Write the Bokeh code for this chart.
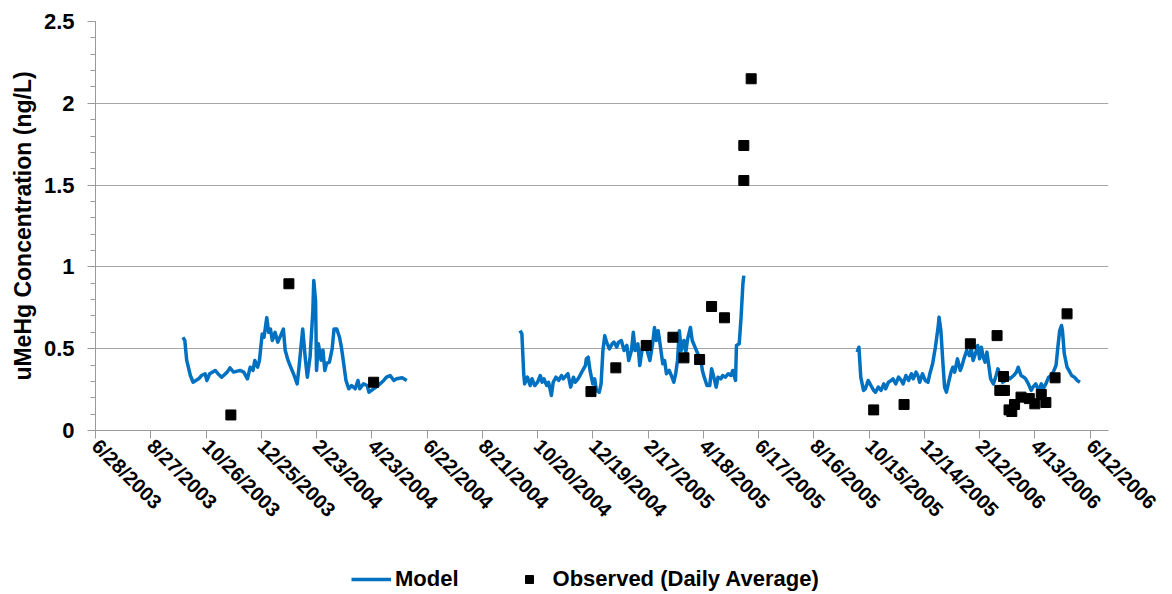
import math
from datetime import datetime
from bokeh.plotting import figure
from bokeh.layouts import column
from bokeh.models import Range1d, FixedTicker, Legend, LegendItem, ColumnDataSource, Title
from bokeh.embed import file_html
from bokeh.resources import INLINE

# ---------------- data ----------------
x_tick_labels = ["6/28/2003", "8/27/2003", "10/26/2003", "12/25/2003", "2/23/2004",
                 "4/23/2004", "6/22/2004", "8/21/2004", "10/20/2004", "12/19/2004",
                 "2/17/2005", "4/18/2005", "6/17/2005", "8/16/2005", "10/15/2005",
                 "12/14/2005", "2/12/2006", "4/13/2006", "6/12/2006"]
x_axis_start = "2003-06-28"
x_axis_end = "2006-07-02"
y_ticks = [0, 0.5, 1, 1.5, 2, 2.5]
y_tick_labels = ["0", "0.5", "1", "1.5", "2", "2.5"]
y_title = "uMeHg Concentration (ng/L)"

model_dates_1 = ["2003-10-01", "2003-10-03", "2003-10-05", "2003-10-09", "2003-10-12", "2003-10-18",
                 "2003-10-21", "2003-10-25", "2003-10-27", "2003-10-30", "2003-11-05", "2003-11-08",
                 "2003-11-12", "2003-11-18", "2003-11-21", "2003-11-25", "2003-11-29", "2003-12-02",
                 "2003-12-06", "2003-12-10", "2003-12-13", "2003-12-16", "2003-12-18", "2003-12-21",
                 "2003-12-23", "2003-12-26", "2003-12-28", "2003-12-31", "2004-01-02", "2004-01-04",
                 "2004-01-06", "2004-01-09", "2004-01-12", "2004-01-15", "2004-01-18", "2004-01-20",
                 "2004-01-23", "2004-01-26", "2004-01-29", "2004-02-02", "2004-02-04", "2004-02-08",
                 "2004-02-11", "2004-02-13", "2004-02-16", "2004-02-19", "2004-02-20", "2004-02-22",
                 "2004-02-23", "2004-02-25", "2004-02-28", "2004-03-01", "2004-03-03", "2004-03-05",
                 "2004-03-08", "2004-03-11", "2004-03-13", "2004-03-16", "2004-03-19", "2004-03-21",
                 "2004-03-23", "2004-03-26", "2004-03-29", "2004-04-01", "2004-04-05", "2004-04-08",
                 "2004-04-10", "2004-04-14", "2004-04-18", "2004-04-20", "2004-04-25", "2004-04-30",
                 "2004-05-06", "2004-05-09", "2004-05-13", "2004-05-17", "2004-05-20", "2004-05-26",
                 "2004-05-31"]
model_vals_1 = [0.57, 0.55, 0.43, 0.336, 0.295, 0.316, 0.336, 0.347, 0.306, 0.347, 0.367, 0.347,
                0.326, 0.357, 0.383, 0.357, 0.363, 0.367, 0.357, 0.316, 0.387, 0.367, 0.428, 0.387,
                0.428, 0.59, 0.57, 0.69, 0.60, 0.62, 0.55, 0.60, 0.54, 0.58, 0.62, 0.49,
                0.43, 0.387, 0.347, 0.285, 0.387, 0.62, 0.43, 0.326, 0.45, 0.73, 0.917, 0.79,
                0.367, 0.53, 0.43, 0.49, 0.367, 0.41, 0.418, 0.50, 0.62, 0.62, 0.57, 0.51,
                0.43, 0.306, 0.255, 0.275, 0.255, 0.306, 0.255, 0.285, 0.275, 0.234, 0.255, 0.275,
                0.306, 0.326, 0.336, 0.306, 0.316, 0.322, 0.306]

model_dates_2 = ["2004-10-01", "2004-10-03", "2004-10-05", "2004-10-06", "2004-10-09", "2004-10-12",
                 "2004-10-14", "2004-10-17", "2004-10-20", "2004-10-23", "2004-10-25", "2004-10-27",
                 "2004-10-30", "2004-11-01", "2004-11-04", "2004-11-06", "2004-11-09", "2004-11-12",
                 "2004-11-15", "2004-11-17", "2004-11-20", "2004-11-22", "2004-11-25", "2004-11-28",
                 "2004-11-30", "2004-12-03", "2004-12-05", "2004-12-08", "2004-12-11", "2004-12-12",
                 "2004-12-14", "2004-12-16", "2004-12-19", "2004-12-21", "2004-12-23", "2004-12-26",
                 "2004-12-28", "2004-12-30", "2005-01-01", "2005-01-03", "2005-01-06", "2005-01-09",
                 "2005-01-11", "2005-01-14", "2005-01-16", "2005-01-19", "2005-01-22", "2005-01-25",
                 "2005-01-27", "2005-01-30", "2005-02-01", "2005-02-03", "2005-02-06", "2005-02-08",
                 "2005-02-11", "2005-02-14", "2005-02-17", "2005-02-19", "2005-02-22", "2005-02-24",
                 "2005-02-26", "2005-02-28", "2005-03-02", "2005-03-05", "2005-03-07", "2005-03-09",
                 "2005-03-12", "2005-03-15", "2005-03-17", "2005-03-19", "2005-03-21", "2005-03-23",
                 "2005-03-25", "2005-03-28", "2005-03-30", "2005-04-01", "2005-04-04", "2005-04-06",
                 "2005-04-09", "2005-04-12", "2005-04-15", "2005-04-17", "2005-04-19", "2005-04-22",
                 "2005-04-25", "2005-04-27", "2005-04-29", "2005-05-02", "2005-05-04", "2005-05-07",
                 "2005-05-09", "2005-05-12", "2005-05-15", "2005-05-18", "2005-05-20", "2005-05-23",
                 "2005-05-24", "2005-05-27", "2005-05-29", "2005-05-31", "2005-06-01"]
model_vals_2 = [0.61, 0.59, 0.347, 0.285, 0.326, 0.275, 0.316, 0.275, 0.295, 0.336, 0.295, 0.316,
                0.275, 0.295, 0.214, 0.295, 0.326, 0.306, 0.336, 0.316, 0.336, 0.347, 0.265, 0.326,
                0.295, 0.316, 0.336, 0.367, 0.397, 0.438, 0.448, 0.367, 0.285, 0.316, 0.245, 0.234,
                0.285, 0.489, 0.58, 0.54, 0.499, 0.53, 0.54, 0.51, 0.54, 0.55, 0.489, 0.52,
                0.428, 0.489, 0.60, 0.489, 0.53, 0.397, 0.51, 0.53, 0.469, 0.428, 0.53, 0.63,
                0.55, 0.61, 0.53, 0.408, 0.428, 0.347, 0.367, 0.326, 0.295, 0.347, 0.428, 0.61,
                0.489, 0.55, 0.479, 0.56, 0.63, 0.55, 0.51, 0.469, 0.448, 0.367, 0.326, 0.275,
                0.275, 0.377, 0.336, 0.265, 0.326, 0.316, 0.336, 0.326, 0.347, 0.336, 0.367, 0.306,
                0.52, 0.53, 0.69, 0.897, 0.947]

model_dates_3 = ["2005-10-02", "2005-10-04", "2005-10-06", "2005-10-09", "2005-10-11", "2005-10-14",
                 "2005-10-17", "2005-10-20", "2005-10-22", "2005-10-25", "2005-10-28", "2005-10-31",
                 "2005-11-02", "2005-11-05", "2005-11-08", "2005-11-10", "2005-11-13", "2005-11-16",
                 "2005-11-19", "2005-11-21", "2005-11-24", "2005-11-27", "2005-11-30", "2005-12-02",
                 "2005-12-05", "2005-12-07", "2005-12-09", "2005-12-12", "2005-12-15", "2005-12-18",
                 "2005-12-20", "2005-12-23", "2005-12-26", "2005-12-29", "2005-12-30", "2006-01-01",
                 "2006-01-03", "2006-01-05", "2006-01-07", "2006-01-09", "2006-01-12", "2006-01-14",
                 "2006-01-16", "2006-01-19", "2006-01-22", "2006-01-24", "2006-01-26", "2006-01-29",
                 "2006-02-01", "2006-02-03", "2006-02-05", "2006-02-08", "2006-02-10", "2006-02-12",
                 "2006-02-14", "2006-02-16", "2006-02-18", "2006-02-20", "2006-02-22", "2006-02-24",
                 "2006-02-27", "2006-03-02", "2006-03-04", "2006-03-06", "2006-03-09", "2006-03-12",
                 "2006-03-15", "2006-03-17", "2006-03-21", "2006-03-24", "2006-03-26", "2006-03-29",
                 "2006-04-01", "2006-04-03", "2006-04-06", "2006-04-09", "2006-04-11", "2006-04-14",
                 "2006-04-17", "2006-04-20", "2006-04-22", "2006-04-25", "2006-04-28", "2006-05-01",
                 "2006-05-03", "2006-05-06", "2006-05-08", "2006-05-10", "2006-05-12", "2006-05-13",
                 "2006-05-15", "2006-05-18", "2006-05-20", "2006-05-23", "2006-05-26", "2006-05-29",
                 "2006-06-01"]
model_vals_3 = [0.479, 0.509, 0.326, 0.245, 0.255, 0.306, 0.275, 0.245, 0.234, 0.265, 0.245, 0.285,
                0.255, 0.295, 0.306, 0.316, 0.285, 0.326, 0.306, 0.285, 0.336, 0.306, 0.347, 0.316,
                0.357, 0.336, 0.295, 0.347, 0.306, 0.295, 0.347, 0.408, 0.509, 0.632, 0.693, 0.611,
                0.428, 0.265, 0.234, 0.285, 0.357, 0.387, 0.357, 0.438, 0.367, 0.397, 0.438, 0.489,
                0.458, 0.499, 0.428, 0.479, 0.52, 0.438, 0.509, 0.448, 0.418, 0.479, 0.397, 0.316,
                0.285, 0.336, 0.377, 0.336, 0.295, 0.306, 0.326, 0.316, 0.336, 0.357, 0.387, 0.336,
                0.326, 0.316, 0.285, 0.245, 0.265, 0.285, 0.245, 0.285, 0.255, 0.285, 0.326, 0.336,
                0.357, 0.397, 0.509, 0.611, 0.642, 0.611, 0.469, 0.387, 0.367, 0.336, 0.326, 0.306,
                0.295]

obs_dates = ["2003-11-22", "2004-01-24", "2004-04-25", "2004-12-17", "2005-01-13", "2005-02-15",
             "2005-03-16", "2005-03-28", "2005-04-14", "2005-04-27", "2005-05-11", "2005-06-01",
             "2005-06-01", "2005-06-09", "2005-10-20", "2005-11-22", "2006-02-02", "2006-03-03",
             "2006-03-06", "2006-03-10", "2006-03-11", "2006-03-16", "2006-03-19", "2006-03-22",
             "2006-03-29", "2006-04-07", "2006-04-13", "2006-04-20", "2006-04-25", "2006-05-05",
             "2006-05-18"]
obs_vals = [0.095, 0.897, 0.295, 0.238, 0.383, 0.52,
            0.57, 0.444, 0.434, 0.758, 0.689, 1.528,
            1.742, 2.15, 0.126, 0.159, 0.53, 0.58,
            0.245, 0.33, 0.245, 0.126, 0.116, 0.159,
            0.204, 0.195, 0.163, 0.22, 0.171, 0.322,
            0.713]

series_names = ["Model", "Observed (Daily Average)"]

# ---------------- helpers ----------------
EPOCH = datetime(1970, 1, 1)


def ms_iso(s):
    return int((datetime.strptime(s, "%Y-%m-%d") - EPOCH).total_seconds() * 1000)


def ms_us(s):
    return int((datetime.strptime(s, "%m/%d/%Y") - EPOCH).total_seconds() * 1000)


FONT = "Liberation Sans"
BLUE = "#0070C0"
GRID = "#a6a6a6"
AXIS = "#9a9a9a"
LINE_W = 3.5
MARK = 10

p = figure(width=1172, height=554, x_axis_type="datetime",
           x_range=Range1d(ms_iso(x_axis_start), ms_iso(x_axis_end)),
           y_range=Range1d(0, 2.5),
           output_backend="svg", toolbar_location=None,
           min_border_left=95, min_border_right=64, min_border_top=21, min_border_bottom=124)
p.outline_line_color = None
p.background_fill_color = "white"
p.border_fill_color = "white"

for d, v in [(model_dates_1, model_vals_1), (model_dates_2, model_vals_2), (model_dates_3, model_vals_3)]:
    src = ColumnDataSource(dict(x=[ms_iso(s) for s in d], y=v))
    p.line("x", "y", source=src, line_color=BLUE, line_width=LINE_W, line_join="round")

obs_src = ColumnDataSource(dict(x=[ms_iso(s) for s in obs_dates], y=obs_vals))
p.scatter("x", "y", source=obs_src, marker="square", size=MARK, fill_color="black", line_color="black")

# x axis
x_ticks = [ms_us(s) for s in x_tick_labels]
p.xaxis.ticker = FixedTicker(ticks=x_ticks, minor_ticks=[])
p.xaxis.major_label_overrides = dict(zip(x_ticks, x_tick_labels))
p.xaxis.major_label_orientation = -math.pi / 4
p.xaxis.major_label_text_font = FONT
p.xaxis.major_label_text_font_style = "bold"
p.xaxis.major_label_text_font_size = "20px"
p.xaxis.major_label_text_color = "black"
p.xaxis.major_label_standoff = 4
p.xaxis.axis_line_color = AXIS
p.xaxis.major_tick_line_color = AXIS
p.xaxis.major_tick_in = 0
p.xaxis.major_tick_out = 8
p.xaxis.minor_tick_line_color = None

# y axis
minor = [i / 10 for i in range(0, 26)]
p.yaxis.ticker = FixedTicker(ticks=y_ticks, minor_ticks=minor)
p.yaxis.major_label_overrides = dict(zip(y_ticks, y_tick_labels))
p.yaxis.major_label_text_font = FONT
p.yaxis.major_label_text_font_style = "bold"
p.yaxis.major_label_text_font_size = "22px"
p.yaxis.major_label_text_color = "black"
p.yaxis.major_label_standoff = 13
p.yaxis.axis_line_color = AXIS
p.yaxis.major_tick_line_color = AXIS
p.yaxis.minor_tick_line_color = AXIS
p.yaxis.major_tick_in = 0
p.yaxis.major_tick_out = 8
p.yaxis.minor_tick_in = 0
p.yaxis.minor_tick_out = 5

p.add_layout(Title(text=y_title, align="center", offset=17, standoff=10,
                   text_font=FONT, text_font_style="bold", text_font_size="23px",
                   text_color="black"), "left")

p.xgrid.grid_line_color = None
p.ygrid.grid_line_color = GRID
p.ygrid.grid_line_width = 1

# ---------------- legend strip ----------------
lg = figure(width=1172, height=40, x_range=Range1d(0, 1), y_range=Range1d(0, 1),
            output_backend="svg", toolbar_location=None,
            x_axis_location=None, y_axis_location=None, min_border=0)
lg.outline_line_color = None
lg.grid.visible = False
lg.background_fill_color = "white"
lg.border_fill_color = "white"
nan = float("nan")
key_line = lg.line(x=[nan, nan], y=[nan, nan], line_color=BLUE, line_width=LINE_W)
key_mark = lg.scatter(x=[nan], y=[nan], marker="square", size=MARK, fill_color="black", line_color="black")

legend = Legend(items=[LegendItem(label=series_names[0], renderers=[key_line]),
                       LegendItem(label=series_names[1], renderers=[key_mark])],
                orientation="horizontal", location=(256, 2),
                glyph_width=40, glyph_height=20, label_standoff=4, spacing=50,
                padding=2, margin=0,
                label_text_font=FONT, label_text_font_style="bold",
                label_text_font_size="22px", label_text_color="black",
                background_fill_alpha=0, border_line_color=None)
lg.add_layout(legend, "center")

layout = column(p, lg, spacing=0)
open("out.html", "w").write(file_html(layout, INLINE))
